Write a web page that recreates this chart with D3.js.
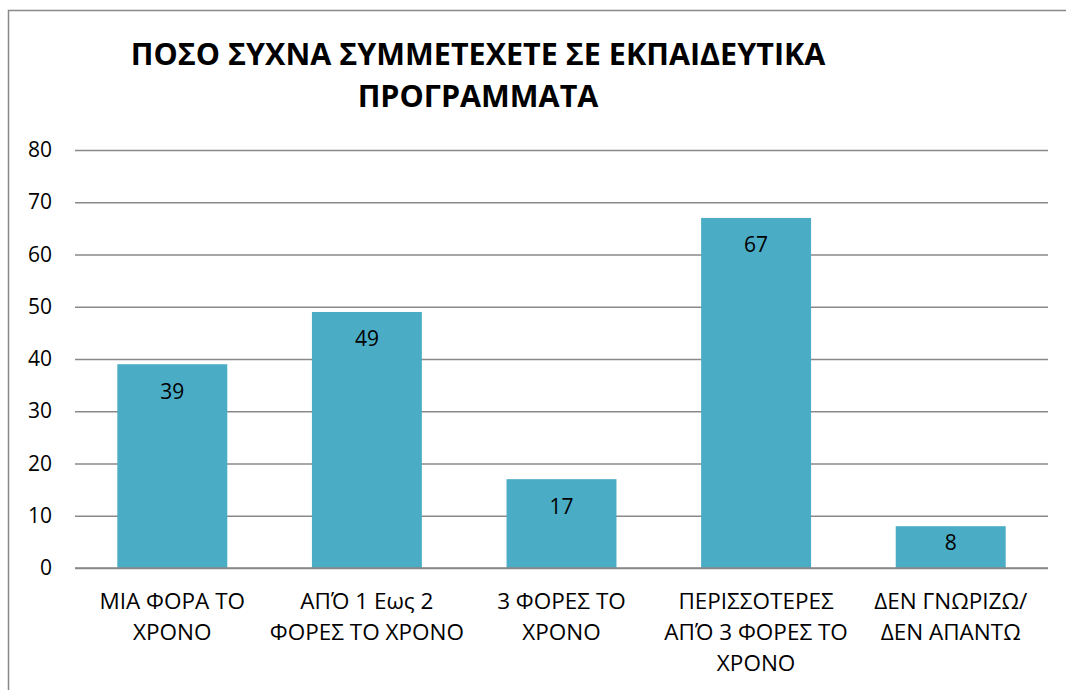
<!DOCTYPE html>
<html>
<head>
<meta charset="utf-8">
<script src="https://cdn.jsdelivr.net/npm/d3@7"></script>
<style>
  body { margin: 0; background: #fff; }
  svg text { font-family: "Open Sans", "Noto Sans", sans-serif; fill: #000; }
</style>
</head>
<body>
<div id="chart"></div>
<script>
// chart data
var titleLines = ["ΠΟΣΟ ΣΥΧΝΑ ΣΥΜΜΕΤΕΧΕΤΕ ΣΕ ΕΚΠΑΙΔΕΥΤΙΚΑ", "ΠΡΟΓΡΑΜΜΑΤΑ"];
var categories = ["ΜΙΑ ΦΟΡΑ ΤΟ ΧΡΟΝΟ", "ΑΠΌ 1 Εως 2 ΦΟΡΕΣ ΤΟ ΧΡΟΝΟ", "3 ΦΟΡΕΣ ΤΟ ΧΡΟΝΟ",
                  "ΠΕΡΙΣΣΟΤΕΡΕΣ ΑΠΌ 3 ΦΟΡΕΣ ΤΟ ΧΡΟΝΟ", "ΔΕΝ ΓΝΩΡΙΖΩ/ ΔΕΝ ΑΠΑΝΤΩ"];
var categoryLines = [
  ["ΜΙΑ ΦΟΡΑ ΤΟ", "ΧΡΟΝΟ"],
  ["ΑΠΌ 1 Εως 2", "ΦΟΡΕΣ ΤΟ ΧΡΟΝΟ"],
  ["3 ΦΟΡΕΣ ΤΟ", "ΧΡΟΝΟ"],
  ["ΠΕΡΙΣΣΟΤΕΡΕΣ", "ΑΠΌ 3 ΦΟΡΕΣ ΤΟ", "ΧΡΟΝΟ"],
  ["ΔΕΝ ΓΝΩΡΙΖΩ/", "ΔΕΝ ΑΠΑΝΤΩ"]
];
var values = [39, 49, 17, 67, 8];
var yTicks = [0, 10, 20, 30, 40, 50, 60, 70, 80];

var svgWidth = 1066;
var svgHeight = 690;
var margin = { top: 150, right: 18, bottom: 122, left: 75 };
var width = svgWidth - margin.left - margin.right;
var height = svgHeight - margin.top - margin.bottom;

var svg = d3.select("#chart")
  .append("svg")
  .attr("width", svgWidth)
  .attr("height", svgHeight);

// outer frame (cut off on right and bottom)
svg.append("rect")
  .attr("x", 8.5)
  .attr("y", 10.5)
  .attr("width", 1200)
  .attr("height", 800)
  .attr("fill", "none")
  .attr("stroke", "#898989")
  .attr("stroke-width", 1.5);

// title
svg.append("text")
  .attr("x", 478)
  .attr("y", 65)
  .attr("text-anchor", "middle")
  .attr("font-weight", "bold")
  .attr("font-size", "30.5px")
  .selectAll("tspan")
  .data(titleLines)
  .enter()
  .append("tspan")
  .attr("x", 478)
  .attr("dy", (d, i) => i === 0 ? 0 : 42)
  .text(d => d);

var chartGroup = svg.append("g")
  .attr("transform", `translate(${margin.left}, ${margin.top})`);

var xScale = d3.scaleBand()
  .domain(categories)
  .range([0, width])
  .paddingInner(0.435)
  .paddingOuter(0.2175);

var yScale = d3.scaleLinear()
  .domain([0, 80])
  .range([height, 0]);

// gridlines
chartGroup.append("g")
  .attr("class", "grid")
  .call(d3.axisLeft(yScale).tickValues(yTicks).tickSize(-width).tickFormat(""))
  .call(g => g.select(".domain").remove())
  .call(g => g.selectAll("line").attr("stroke", "#898989").attr("stroke-width", 1.3));

// y labels
chartGroup.append("g")
  .attr("class", "y-axis")
  .call(d3.axisLeft(yScale).tickValues(yTicks).tickSize(0).tickPadding(23))
  .call(g => g.select(".domain").remove())
  .call(g => g.selectAll("text")
    .attr("font-size", "21px")
    .attr("font-family", "'Open Sans', sans-serif")
    .attr("fill", "#000"));

// bars
chartGroup.selectAll("rect.bar")
  .data(values)
  .enter()
  .append("rect")
  .attr("class", "bar")
  .attr("x", (d, i) => xScale(categories[i]))
  .attr("y", d => yScale(d))
  .attr("width", xScale.bandwidth())
  .attr("height", d => height - yScale(d))
  .attr("fill", "#4BACC6");

// value labels (inside end, pushed up for short bars)
chartGroup.selectAll("text.val")
  .data(values)
  .enter()
  .append("text")
  .attr("class", "val")
  .attr("x", (d, i) => xScale(categories[i]) + xScale.bandwidth() / 2)
  .attr("y", d => Math.min(yScale(d) + 27, height - 25))
  .attr("text-anchor", "middle")
  .attr("dy", "0.35em")
  .attr("font-size", "21px")
  .text(d => d);

// zero line on top
chartGroup.append("line")
  .attr("x1", 0)
  .attr("x2", width)
  .attr("y1", yScale(0))
  .attr("y2", yScale(0))
  .attr("stroke", "#898989")
  .attr("stroke-width", 1.5);

// category labels
var xAxis = chartGroup.append("g")
  .attr("class", "x-axis")
  .attr("transform", `translate(0, ${height})`);

xAxis.selectAll("text")
  .data(categories)
  .enter()
  .append("text")
  .attr("x", d => xScale(d) + xScale.bandwidth() / 2)
  .attr("y", 33)
  .attr("text-anchor", "middle")
  .attr("font-size", "22.5px")
  .each(function(d, i) {
    d3.select(this).selectAll("tspan")
      .data(categoryLines[i])
      .enter()
      .append("tspan")
      .attr("x", xScale(d) + xScale.bandwidth() / 2)
      .attr("dy", (t, j) => j === 0 ? "0.35em" : 31)
      .text(t => t);
  });
</script>
</body>
</html>
